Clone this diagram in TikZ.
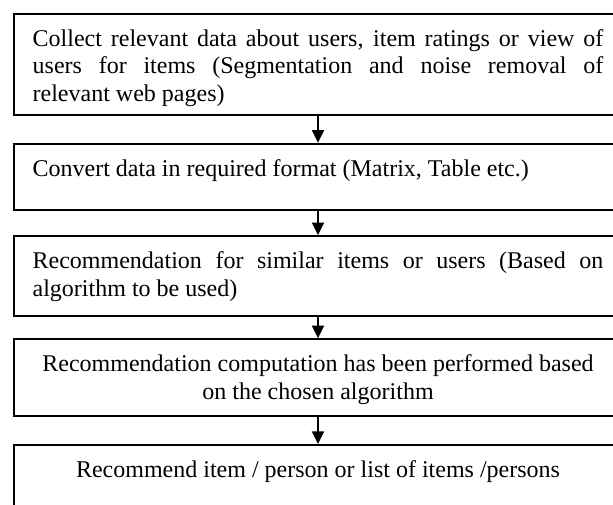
\documentclass[tikz,border=0pt]{standalone}
\usepackage{fontspec}
\setmainfont{Liberation Serif}
\usepackage{tikz}
\usetikzlibrary{arrows.meta}
\hyphenpenalty=10000
\tikzset{
  procbox/.style={rectangle, draw=black, line width=1.5pt, anchor=north west,
                  text width=428pt, inner xsep=14pt, inner ysep=0pt,
                  text height=24.4pt,
                  font=\fontsize{18}{20.6}\selectfont},
  flowarrow/.style={-{Triangle[length=9.5pt, width=9pt]}, line width=1.5pt},
}
\begin{document}
\begin{tikzpicture}[x=0.75pt, y=-0.75pt]
    \clip (0,0) rectangle (613,504);
    \node[procbox, align=justify, text depth=51.2pt] (collect) at (13, 12.7)
      {Collect relevant data about users, item ratings or view of\linebreak
       users for items (Segmentation and noise removal of\linebreak
       relevant web pages)};
    \node[procbox, align=justify, text depth=25.5pt] (convert) at (13, 142.7)
      {Convert data in required format (Matrix, Table etc.)};
    \node[procbox, align=justify, text depth=35pt] (similar) at (13, 235.3)
      {Recommendation for similar items or users (Based on\linebreak
       algorithm to be used)};
    \node[procbox, align=flush center, text depth=33pt] (compute) at (13, 338.3)
      {Recommendation computation has been performed based\\
       on the chosen algorithm};
    \node[procbox, align=flush center, text depth=60pt] (result) at (13, 444)
      {Recommend item / person or list of items /persons};

    \draw[flowarrow] (collect) -- (convert);
    \draw[flowarrow] (convert) -- (similar);
    \draw[flowarrow] (similar) -- (compute);
    \draw[flowarrow] (compute) -- (result);
\end{tikzpicture}
\end{document}
